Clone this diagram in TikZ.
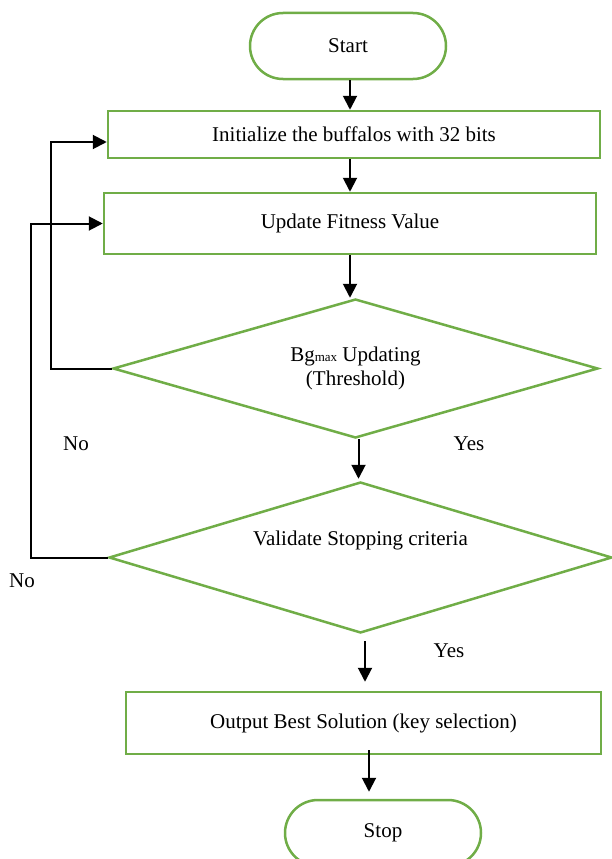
\documentclass[tikz,border=0pt]{standalone}
\usepackage{fontspec}
\setmainfont{Liberation Serif}
\usetikzlibrary{shapes.geometric,arrows.meta,calc}
\definecolor{grn}{HTML}{70AD47}
\begin{document}
\begin{tikzpicture}[x=1pt,y=-1pt,
  every node/.style={font=\fontsize{21}{24}\selectfont, inner sep=0pt, align=center},
  term/.style={draw=grn, line width=2.5pt, rounded corners=33pt, minimum width=196pt, minimum height=66pt},
  proc/.style={draw=grn, line width=2.5pt, minimum width=492pt},
  dec/.style={draw=grn, line width=2.5pt, diamond, aspect=3.5},
  arr/.style={line width=2pt, -{Triangle[length=14pt,width=14pt]}},
  lbl/.style={font=\fontsize{21}{24}\selectfont}]
\useasboundingbox (0,0) rectangle (612,859);
\node[term] (start) at (348,46) {Start};
\node[proc, minimum height=47pt] (init) at (354,134.5) {Initialize the buffalos with 32 bits};
\node[proc, minimum height=61pt] (upd) at (350,223.5) {Update Fitness Value};
\node[dec, minimum width=485pt, minimum height=139pt] (d1) at (355.5,368.5)
  {Bg{\fontsize{13}{14}\selectfont max} Updating\\(Threshold)};
\node[dec, minimum width=503pt, minimum height=151pt,
  label={[yshift=17pt,font=\fontsize{21}{24}\selectfont]center:Validate Stopping criteria}] (d2) at (360.5,557.5) {};
\node[proc, minimum width=475pt, minimum height=62pt] (out) at (363.5,723) {Output Best Solution (key selection)};
\node[term] (stop) at (383,833) {Stop};
\node[lbl] (no1) at (76,444) {No};
\node[lbl] (yes1) at (469,444) {Yes};
\node[lbl] (no2) at (22,581) {No};
\node[lbl] (yes2) at (449,651) {Yes};
% connector end points
\coordinate (a1) at ($(start.south)+(2,0)$);
\coordinate (a2) at ($(init.south -| start.south)+(2,0)$);
\coordinate (a4) at ($(d1.south)+(3,0)$);
\coordinate (a5) at ($(d2.south -| out.north)+(1.5,7)$);
\coordinate (a6) at ($(out.south -| stop.north)+(-14,-5)$);
% connectors
\draw[arr] (a1) -- (a1 |- init.north);
\draw[arr] (a2) -- (a2 |- upd.north);
\draw[arr] (upd.south) -- (upd.south |- d1.north);
\draw[arr] (a4) -- ($(a4 |- d2.north)+(0,-2)$);
\draw[arr] (a5) -- ($(a5 |- out.north)+(0,-9)$);
\draw[arr] (a6) -- ($(a6 |- stop.north)+(0,-7)$);
\draw[arr] (d1.west) -- ++(-61,0) |- ([yshift=-7.5pt]init.west);
\draw[arr] (d2.west) -- ++(-77,0) |- (upd.west);
\end{tikzpicture}
\end{document}
